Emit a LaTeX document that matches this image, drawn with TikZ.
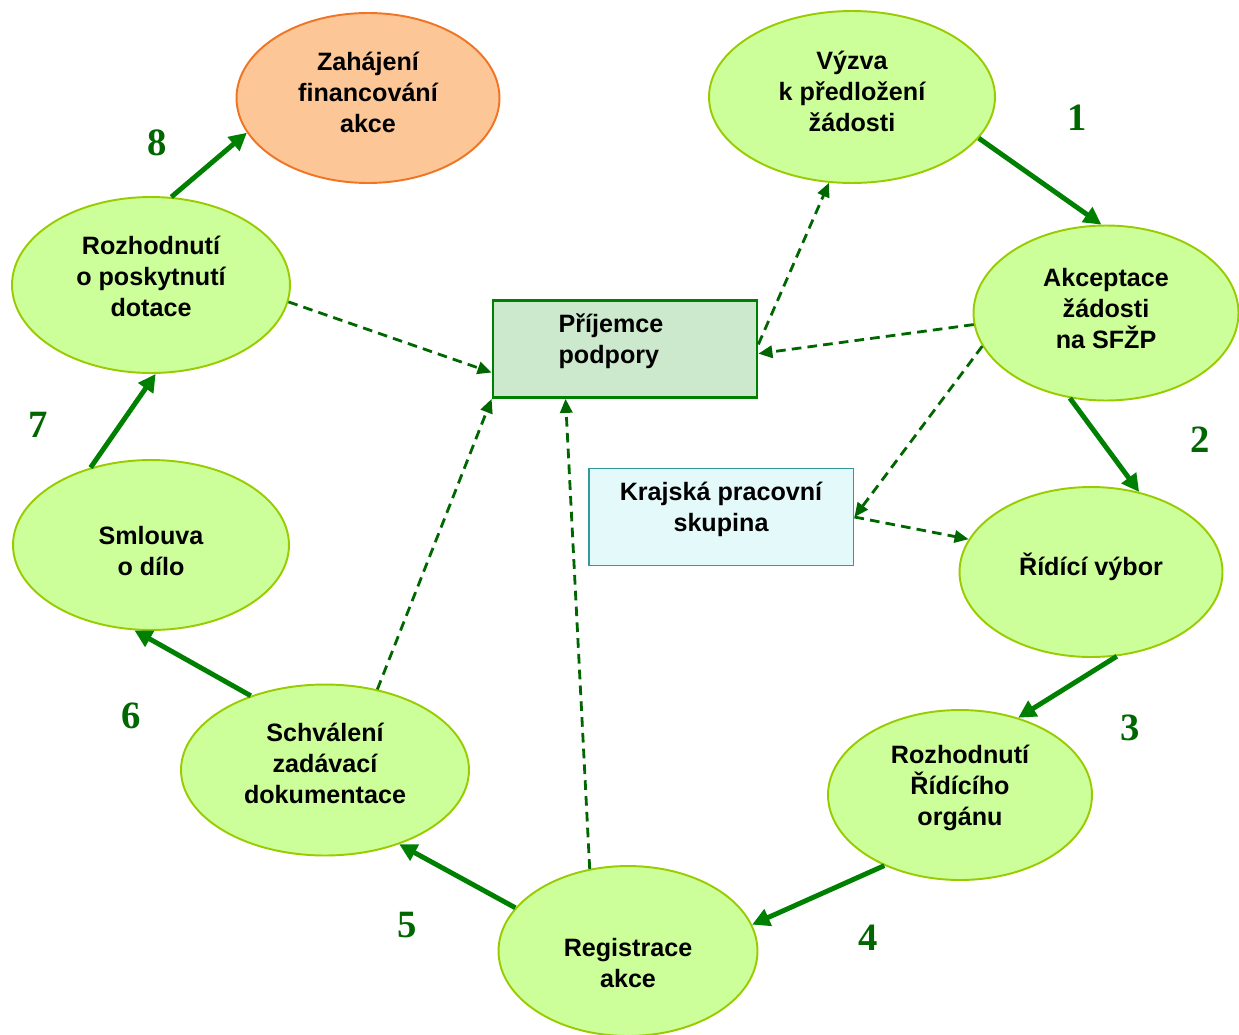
\documentclass[tikz,border=0pt]{standalone}
\usepackage{fontspec}
\setmainfont{Liberation Sans}
\newfontfamily\numfont{Liberation Serif}
\usepackage{xcolor}
\usepackage{tikz}
\usetikzlibrary{shapes.geometric,arrows.meta}
\definecolor{stagefill}{HTML}{CCFF99}
\definecolor{stageline}{HTML}{99CC00}
\definecolor{startfill}{HTML}{FCC697}
\definecolor{startline}{HTML}{F07424}
\definecolor{flowgreen}{HTML}{008000}
\definecolor{linkgreen}{HTML}{006600}
\definecolor{boxfill}{HTML}{CDE9CD}
\definecolor{cyanfill}{HTML}{E4FAFA}
\definecolor{cyanline}{HTML}{339999}
\tikzset{
  stage/.style={ellipse, fill=stagefill, draw=stageline, line width=1.1pt, inner sep=0pt,
    align=center, font=\fontsize{14.3}{17.6}\selectfont\bfseries},
  startstage/.style={stage, fill=startfill, draw=startline},
  partner/.style={rectangle, fill=boxfill, draw=flowgreen, line width=1.6pt, inner sep=0pt,
    minimum width=5.28cm, minimum height=1.94cm, align=center,
    font=\fontsize{14.3}{17.6}\selectfont\bfseries},
  group/.style={partner, fill=cyanfill, draw=cyanline, line width=1.1pt},
  flow/.style={draw=flowgreen, line width=2.8pt, -{Triangle[length=10pt,width=10pt]}},
  link/.style={draw=linkgreen, line width=1.6pt, dash pattern=on 5.5pt off 3.5pt,
    -{Triangle[length=8pt,width=7pt]}},
  num/.style={text=linkgreen, font=\numfont\fontsize{22}{22}\selectfont\bfseries},
}
\begin{document}
\begin{tikzpicture}[x=0.02cm,y=-0.02cm]
  \useasboundingbox (0,0) rectangle (1239,1034);

  \node[stage, minimum width=5.72cm, minimum height=3.44cm] (vyzva) at (852,97)
    {Výzva\\k předložení\\žádosti\rule[-6.8pt]{0pt}{0pt}};
  \node[startstage, minimum width=5.26cm, minimum height=3.4cm] (zahajeni) at (368,98)
    {Zahájení\\financování\\akce\rule[-6.8pt]{0pt}{0pt}};
  \node[stage, minimum width=5.3cm, minimum height=3.5cm] (akceptace) at (1106,313)
    {Akceptace\\žádosti\\na SFŽP\rule[-5.6pt]{0pt}{0pt}};
  \node[stage, minimum width=5.56cm, minimum height=3.52cm] (rozhodnuti) at (151,285)
    {Rozhodnutí\\o poskytnutí\\dotace\rule[-10.2pt]{0pt}{0pt}};
  \node[stage, minimum width=5.26cm, minimum height=3.4cm] (vybor) at (1091,572)
    {Řídící výbor\rule[-8.6pt]{0pt}{0pt}};
  \node[stage, minimum width=5.28cm, minimum height=3.4cm] (organ) at (960,795)
    {Rozhodnutí\\Řídícího\\orgánu\rule[-11pt]{0pt}{0pt}};
  \node[stage, minimum width=5.18cm, minimum height=3.4cm] (registrace) at (628,951)
    {\rule{0pt}{24pt}Registrace\\akce};
  \node[stage, minimum width=5.76cm, minimum height=3.42cm] (schvaleni) at (325,770)
    {Schválení\\zadávací\\dokumentace\rule[-7.4pt]{0pt}{0pt}};
  \node[stage, minimum width=5.52cm, minimum height=3.4cm] (smlouva) at (151,545)
    {\rule{0pt}{17pt}Smlouva\\o dílo};

  \node[partner, align=left] (prijemce) at (625,349)
    {Příjemce\rule{0.56cm}{0pt}\\podpory\rule[-12pt]{0pt}{0pt}};
  \node[group, minimum width=5.3cm] (krajska) at (721,517)
    {Krajská pracovní\\skupina\rule[-12pt]{0pt}{0pt}};

  % main cycle
  \draw[flow] (vyzva.-18) -- (akceptace.93);
  \draw[flow] (akceptace.247) -- (vybor.59);
  \draw[flow] (vybor.287) -- (organ.53);
  \draw[flow] (organ.223) -- (registrace.12);
  \draw[flow] (registrace.159) -- (schvaleni.315);
  \draw[flow] (schvaleni.135) -- (smlouva.259);
  \draw[flow] (smlouva.128) -- (rozhodnuti.273);
  \draw[flow] (rozhodnuti.77) -- (zahajeni.196);

  % links to the partners
  \draw[link] (rozhodnuti.353) -- (prijemce.190);
  \draw[link] (schvaleni.57) -- (prijemce.south west);
  \draw[link] (registrace.115) -- (prijemce.220);
  \draw[link] (prijemce.2) -- (vyzva.255);
  \draw[link] (akceptace.185) -- (prijemce.358);
  \draw[link] (akceptace.195) -- (krajska.east);
  \draw[link] (krajska.east) -- (vybor.165);

  \node[num] (n1) at (1077,118) {1};
  \node[num] (n2) at (1200,440) {2};
  \node[num] (n3) at (1130,728) {3};
  \node[num] (n4) at (868,938) {4};
  \node[num] (n5) at (407,925) {5};
  \node[num] (n6) at (131,716) {6};
  \node[num] (n7) at (38,425) {7};
  \node[num] (n8) at (157,143) {8};
\end{tikzpicture}
\end{document}
